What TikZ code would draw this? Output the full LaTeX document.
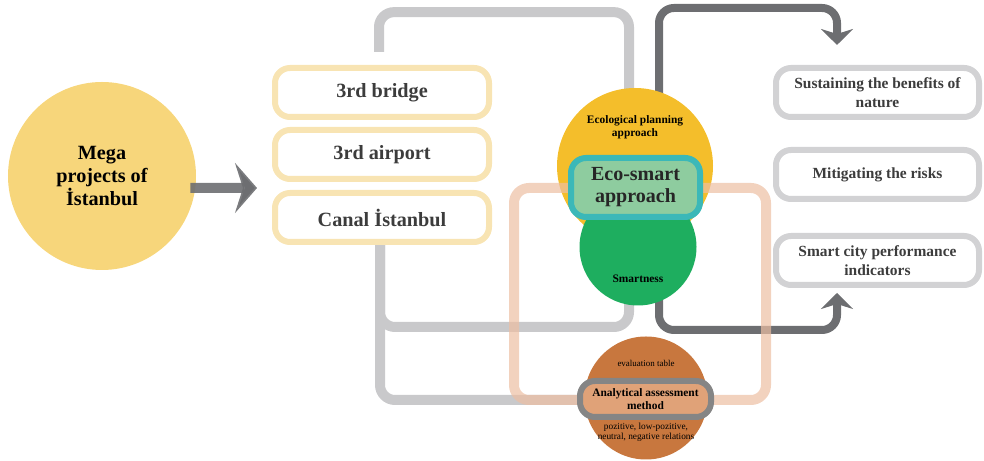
\documentclass[tikz,border=0pt]{standalone}
\usepackage{fontspec}
\setmainfont{Liberation Serif}
\usepackage{tikz}
\usetikzlibrary{arrows.meta,positioning,calc,backgrounds}
\definecolor{megafill}{HTML}{F7D67B}
\definecolor{projline}{HTML}{F8E4B3}
\definecolor{lgray}{HTML}{C9C9CB}
\definecolor{dgray}{HTML}{6D6E71}
\definecolor{peach}{HTML}{EDBFA3}
\definecolor{ecolfill}{HTML}{F4BE2B}
\definecolor{smartfill}{HTML}{1EAE5F}
\definecolor{ecofill}{HTML}{8ECC9F}
\definecolor{ecoline}{HTML}{3BB8B8}
\definecolor{evalfill}{HTML}{C8773E}
\definecolor{assessfill}{HTML}{E0A278}
\definecolor{assessline}{HTML}{858585}
\definecolor{goalline}{HTML}{D2D2D4}
\definecolor{txtgray}{HTML}{3C3C3C}

\begin{document}
\begin{tikzpicture}[
  blob/.style={circle, inner sep=0pt, align=center},
  proj/.style={draw=projline, line width=0.12cm, rounded corners=0.3cm, fill=white,
               minimum width=4.28cm, minimum height=0.98cm, text=txtgray,
               font=\fontsize{11.5}{13}\selectfont\bfseries},
  goal/.style={draw=goalline, line width=0.12cm, rounded corners=0.3cm, fill=white,
               minimum width=4.06cm, minimum height=0.98cm, text=txtgray, align=center,
               font=\fontsize{8.8}{10.8}\selectfont\bfseries},
  tiny/.style={align=center, inner sep=0pt, font=\fontsize{6.5}{7.4}\selectfont\bfseries},
  gline/.style={line width=0.2cm, draw=lgray, rounded corners=0.3cm},
  dline/.style={line width=0.16cm, draw=dgray, rounded corners=0.3cm},
  darr/.style={dline, -{Stealth[length=0.32cm, width=0.64cm, inset=0.1cm]}},
  bigarr/.style={line width=0.2cm, draw=dgray, -{Stealth[length=0.44cm, width=1cm, inset=0.16cm]}},
  frame/.style={line width=0.2cm, draw=peach, draw opacity=0.7, rounded corners=0.3cm}
]
\useasboundingbox (0,0) rectangle (19.68,9.22);

%% Mega projects
\node[blob, fill=megafill, minimum size=3.76cm, font=\fontsize{11.5}{13.3}\selectfont\bfseries]
  (mega) at (2.04,5.70) {Mega\\projects of\\İstanbul};
\coordinate (projin) at (5.14,5.46);
\draw[bigarr, draw opacity=0.9] ([shift={(-0.12,-0.24)}]mega.east) -- (projin);

\node[proj] (bridge) at (7.64,7.37) {3rd bridge};
\node[proj] (airport) at (7.64,6.13) {3rd airport};
\node[proj] (canal) at (7.64,4.87) {Canal İstanbul};

%% Approach circles
\node[blob, fill=ecolfill, minimum size=3.12cm] (ecol) at (12.70,5.90) {};
\node[tiny] (ecoltxt) at ([yshift=0.78cm]ecol.center) {Ecological planning\\approach};
\node[blob, fill=smartfill, minimum size=2.34cm] (smart) at (12.76,4.28) {};
\node[tiny] (smarttxt) at ([yshift=-0.64cm]smart.center) {Smartness};

%% Outcomes
\node[goal] (sustain) at (17.55,7.37) {Sustaining the benefits of\\nature};
\node[goal] (mitig) at (17.55,5.73) {Mitigating the risks};
\node[goal] (smartcity) at (17.55,4.01) {Smart city performance\\indicators};

%% Connectors (behind)
\begin{scope}[on background layer]
\draw[gline] ([shift={(-0.06,0.26)}]bridge.north) |- ([shift={(-0.12,1.51)}]ecol.north)
  -- ([xshift=-0.12cm]ecol.center);
\draw[gline] ([xshift=-0.04cm]canal.center) |- ([shift={(-0.18,-1.6)}]smart.center)
  -- ([xshift=-0.18cm]smart.center);
\draw[gline] ([xshift=-0.04cm]canal.center) |- (12.91,1.22);
\draw[darr] ([xshift=0.48cm]ecol.center) |- ([shift={(-0.81,1.14)}]sustain.north)
  -- ([shift={(-0.81,0.40)}]sustain.north);
\draw[darr] ([xshift=0.42cm]smart.center) |- ([shift={(-0.81,-0.84)}]smartcity.south)
  -- ([shift={(-0.81,-0.10)}]smartcity.south);
\end{scope}

\draw[frame] (10.28,5.46) rectangle (15.32,1.22);

\node[draw=ecoline, fill=ecofill, line width=0.12cm, rounded corners=0.3cm,
      minimum width=2.58cm, minimum height=1.18cm, inner sep=0pt, align=center,
      text=black!85, font=\fontsize{11.4}{12.5}\selectfont\bfseries]
  (eco) at (12.71,5.47) {Eco-smart\\approach};

%% Assessment
\node[blob, fill=evalfill, minimum size=2.46cm] (evalc) at (12.92,1.26) {};
\node[align=center, inner sep=0pt, font=\fontsize{5.1}{5.7}\selectfont]
  (evaltxt) at ([yshift=0.70cm]evalc.center) {evaluation table};
\node[align=center, inner sep=0pt, font=\fontsize{5.3}{5.8}\selectfont]
  (reltxt) at ([yshift=-0.68cm]evalc.center) {pozitive, low-pozitive,\\neutral, negative relations};
\node[draw=assessline, fill=assessfill, line width=0.12cm, rounded corners=0.3cm,
      minimum width=2.62cm, minimum height=0.72cm, inner sep=0pt, align=center,
      font=\fontsize{6.5}{7.5}\selectfont\bfseries]
  (assess) at (12.91,1.24) {Analytical assessment\\method};

\end{tikzpicture}
\end{document}
